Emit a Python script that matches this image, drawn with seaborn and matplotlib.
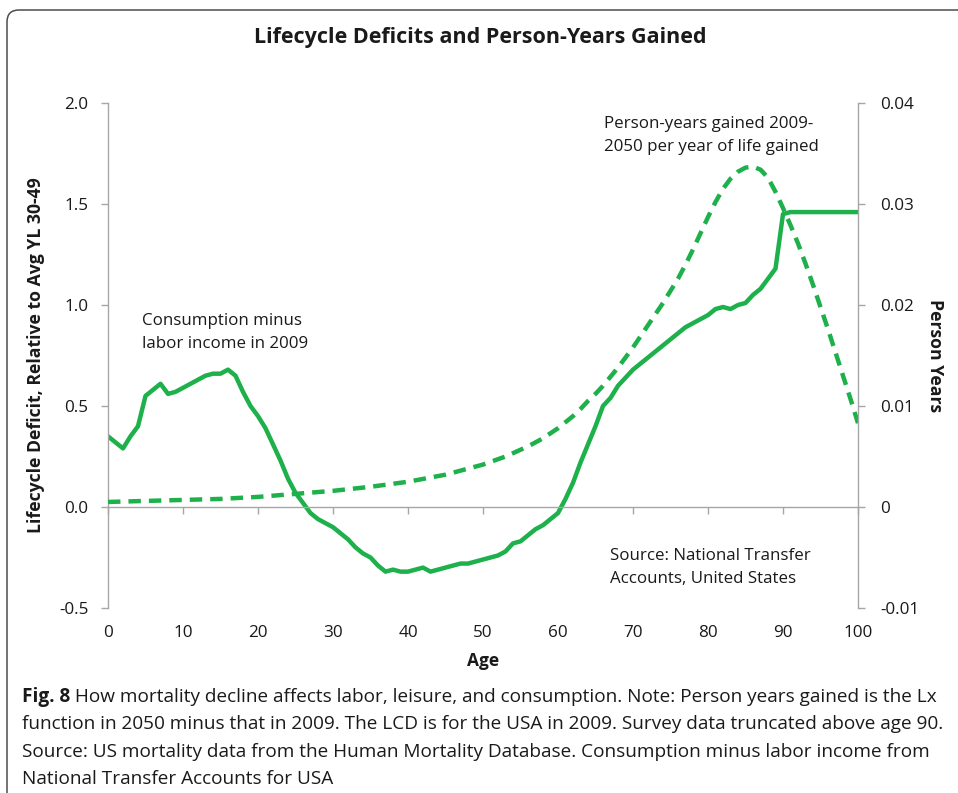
import matplotlib
matplotlib.use("Agg")
import matplotlib.pyplot as plt
import seaborn as sns
import pandas as pd
from matplotlib.patches import FancyBboxPatch

# Lifecycle deficit (consumption minus labor income), USA 2009, by single year of age
ages = list(range(0, 101))
deficit = [
    0.35, 0.32, 0.29, 0.35, 0.40, 0.55, 0.58, 0.61, 0.56, 0.57,   # 0-9
    0.59, 0.61, 0.63, 0.65, 0.66, 0.66, 0.68, 0.65, 0.57, 0.50,   # 10-19
    0.45, 0.39, 0.31, 0.23, 0.14, 0.07, 0.02, -0.03, -0.06, -0.08,  # 20-29
    -0.10, -0.13, -0.16, -0.20, -0.23, -0.25, -0.29, -0.32, -0.31, -0.32,  # 30-39
    -0.32, -0.31, -0.30, -0.32, -0.31, -0.30, -0.29, -0.28, -0.28, -0.27,  # 40-49
    -0.26, -0.25, -0.24, -0.22, -0.18, -0.17, -0.14, -0.11, -0.09, -0.06,  # 50-59
    -0.03, 0.04, 0.12, 0.22, 0.31, 0.40, 0.50, 0.54, 0.60, 0.64,   # 60-69
    0.68, 0.71, 0.74, 0.77, 0.80, 0.83, 0.86, 0.89, 0.91, 0.93,   # 70-79
    0.95, 0.98, 0.99, 0.98, 1.00, 1.01, 1.05, 1.08, 1.13, 1.18,   # 80-89
    1.45, 1.46, 1.46, 1.46, 1.46, 1.46, 1.46, 1.46, 1.46, 1.46,   # 90-99
    1.46,                                                         # 100
]

# Person-years gained 2009-2050 per year of life gained (Lx 2050 minus Lx 2009)
py_ages = [0, 5, 10, 15, 20, 25, 30, 35, 40, 45, 50, 53] + list(range(56, 101))
py_gained = [
    0.0005, 0.0006, 0.0007, 0.0008, 0.0010, 0.0013, 0.0016, 0.0020,
    0.0025, 0.0032, 0.0042, 0.0050,
    0.0060, 0.0064, 0.0068, 0.0073,                                   # 56-59
    0.0078, 0.0084, 0.0090, 0.0097, 0.0105, 0.0112, 0.0120, 0.0129,   # 60-67
    0.0138, 0.0148, 0.0158, 0.0169, 0.0180, 0.0191, 0.0202, 0.0214,   # 68-75
    0.0226, 0.0240, 0.0255, 0.0271, 0.0287, 0.0302, 0.0315, 0.0325,   # 76-83
    0.0332, 0.0336, 0.0337, 0.0334, 0.0326, 0.0312, 0.0296, 0.0279,   # 84-91
    0.0261, 0.0241, 0.0220, 0.0198, 0.0176, 0.0153, 0.0130, 0.0107,   # 92-99
    0.0083,                                                           # 100
]

age_ticks = list(range(0, 101, 10))
left_ticks = [-0.5, 0.0, 0.5, 1.0, 1.5, 2.0]
left_labels = ["-0.5", "0.0", "0.5", "1.0", "1.5", "2.0"]
right_ticks = [-0.01, 0.0, 0.01, 0.02, 0.03, 0.04]
right_labels = ["-0.01", "0", "0.01", "0.02", "0.03", "0.04"]

title = "Lifecycle Deficits and Person-Years Gained"
caption_lead = "Fig. 8"
caption_lines = [
    " How mortality decline affects labor, leisure, and consumption. Note: Person years gained is the Lx",
    "function in 2050 minus that in 2009. The LCD is for the USA in 2009. Survey data truncated above age 90.",
    "Source: US mortality data from the Human Mortality Database. Consumption minus labor income from",
    "National Transfer Accounts for USA",
]

sns.set_theme(style="white")
plt.rcParams["font.family"] = ["Open Sans", "DejaVu Sans"]

W, H = 958, 793
fig = plt.figure(figsize=(W / 100, H / 100), dpi=100)
ax = fig.add_axes([108 / W, 1 - 608 / H, 750 / W, 505 / H])

green = "#1db04b"
axis_gray = "#a6a6a6"
ink = "#1a1a1a"

df_lcd = pd.DataFrame({"Age": ages, "Deficit": deficit})
sns.lineplot(data=df_lcd, x="Age", y="Deficit", ax=ax, color=green, lw=3.2,
             solid_joinstyle="round", solid_capstyle="round")

ax2 = ax.twinx()
df_py = pd.DataFrame({"Age": py_ages, "Gained": py_gained})
sns.lineplot(data=df_py, x="Age", y="Gained", ax=ax2, color=green, lw=3.2)
ax2.lines[0].set_dashes((2.8, 1.8))

ax.set_xlim(0, 100)
ax.set_ylim(-0.5, 2.0)
ax2.set_ylim(-0.01, 0.04)

tick_size = 12.3

# left axis
ax.set_yticks(left_ticks)
ax.set_yticklabels(left_labels)
ax.tick_params(axis="y", left=True, length=5, width=1, color=axis_gray,
               pad=9, labelsize=tick_size, labelcolor=ink)
for s in ["top", "right"]:
    ax.spines[s].set_visible(False)
ax.spines["left"].set_color(axis_gray)
ax.spines["left"].set_linewidth(1)

# horizontal axis crossing at zero, labels at the bottom
ax.spines["bottom"].set_position(("data", 0))
ax.spines["bottom"].set_color(axis_gray)
ax.spines["bottom"].set_linewidth(1)
ax.set_xticks(age_ticks)
ax.tick_params(axis="x", bottom=True, length=5, width=1, color=axis_gray,
               labelbottom=False)
ax.set_xlabel("")
sec = ax.secondary_xaxis("bottom")
sec.set_xticks(age_ticks)
sec.tick_params(length=0, pad=12, labelsize=tick_size, labelcolor=ink)
sec.spines["bottom"].set_visible(False)
sec.set_xlabel("Age", fontsize=12.5, fontweight="bold", labelpad=8, color=ink)

ax.set_ylabel("Lifecycle Deficit, Relative to Avg YL 30-49", fontsize=12.7,
              fontweight="bold", color=ink)
ax.yaxis.set_label_coords((45 - 108) / 750, 0.5)

# right axis
ax2.set_yticks(right_ticks)
ax2.set_yticklabels(right_labels)
ax2.tick_params(axis="y", right=True, length=5, width=1, color=axis_gray,
                pad=11, labelsize=tick_size, labelcolor=ink)
for s in ["top", "left", "bottom"]:
    ax2.spines[s].set_visible(False)
ax2.spines["right"].set_color(axis_gray)
ax2.spines["right"].set_linewidth(1)
ax2.set_ylabel("Person Years", fontsize=12.7, fontweight="bold", rotation=270,
               va="center", color=ink)
ax2.yaxis.set_label_coords((935 - 108) / 750, 0.5)

# annotations
note_size = 12.2
ax.text(4.5, 0.962, "Consumption minus\nlabor income in 2009", fontsize=note_size,
        va="top", ha="left", linespacing=1.58, color=ink)
ax.text(66.1, 1.935, "Person-years gained 2009-\n2050 per year of life gained",
        fontsize=note_size, va="top", ha="left", linespacing=1.58, color=ink)
ax.text(66.9, -0.205, "Source: National Transfer\nAccounts, United States",
        fontsize=note_size, va="top", ha="left", linespacing=1.52, color=ink)

fig.text(480 / W, 1 - 38 / H, title, ha="center", va="center", fontsize=15.5,
         fontweight="bold", color=ink)

# caption
cap_size = 13.7
line_y = [697, 724, 752, 779]
lead = fig.text(22 / W, 1 - line_y[0] / H, caption_lead, ha="left",
                va="center", fontsize=cap_size, fontweight="bold", color=ink)
fig.canvas.draw()
bb = lead.get_window_extent()
fig.text(bb.x1 / W, 1 - line_y[0] / H, caption_lines[0], ha="left",
         va="center", fontsize=cap_size, color=ink)
for txt, yy in zip(caption_lines[1:], line_y[1:]):
    fig.text(22 / W, 1 - yy / H, txt, ha="left", va="center",
             fontsize=cap_size, color=ink)

# outer frame
frame = FancyBboxPatch((7, -60), 1100, H - 10 + 60,
                       boxstyle="round,pad=0,rounding_size=12",
                       transform=None, fill=False, edgecolor="#4d4d4d",
                       linewidth=1.1)
fig.add_artist(frame)

fig.savefig("out.png", dpi=100)
